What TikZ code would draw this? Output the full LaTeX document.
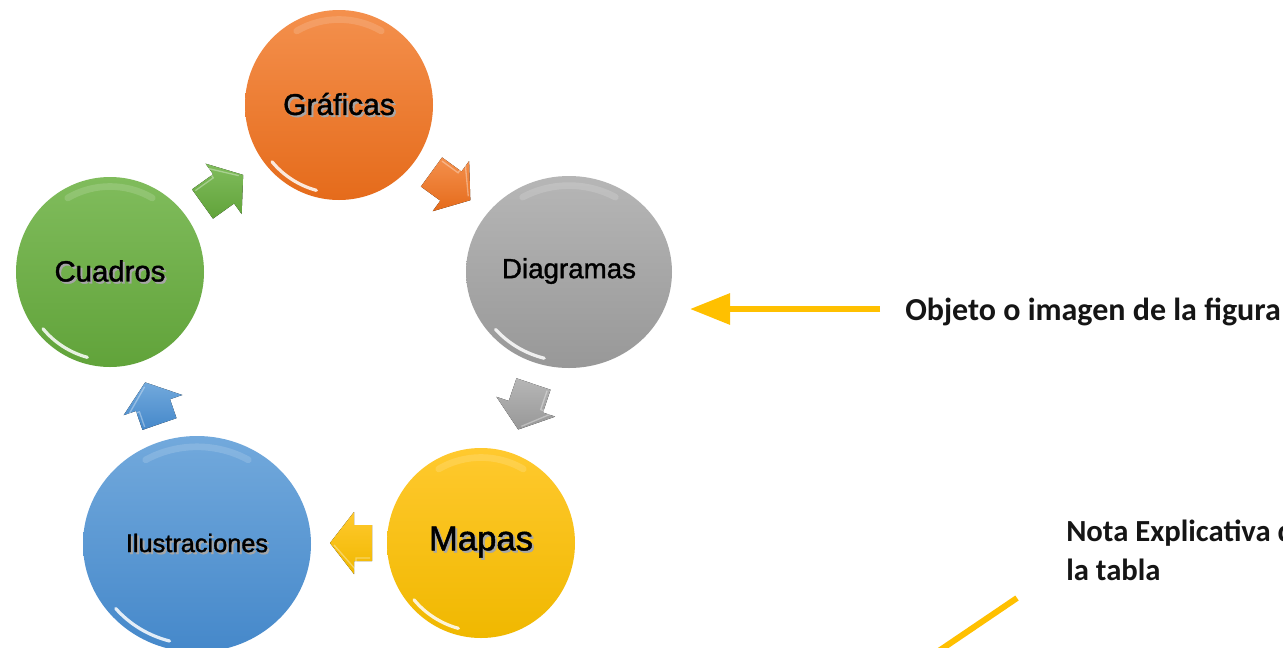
\documentclass[tikz,border=0pt]{standalone}
\usepackage{fontspec}
\setmainfont{Liberation Sans}
\newfontfamily\lblfont[FakeBold=1.3]{Liberation Sans}
\newfontfamily\calib{Carlito}
\usetikzlibrary{shapes.geometric,arrows.meta}
\definecolor{orT}{HTML}{F4904D}
\definecolor{orB}{HTML}{E56B1B}
\definecolor{grT}{HTML}{80BC5C}
\definecolor{grB}{HTML}{61A33A}
\definecolor{gyT}{HTML}{B6B6B6}
\definecolor{gyB}{HTML}{989898}
\definecolor{ylT}{HTML}{FFC92E}
\definecolor{ylB}{HTML}{F0B800}
\definecolor{blT}{HTML}{72A9DC}
\definecolor{blB}{HTML}{4588CA}
\definecolor{ylw}{HTML}{FFC000}
\definecolor{txt}{HTML}{151515}
\newcommand\shtx[1]{\makebox[0pt][l]{\hspace{1.5pt}\raisebox{-1.5pt}{\textcolor{black!35}{#1}}}#1}
\newcommand\blockarr[6]{%
  \fill[top color=#5, bottom color=#6, shift={(#1,#2)}, rotate=#3]
    (0,-18) -- ({#4-24},-18) -- ({#4-24},-31) -- (#4,0) -- ({#4-24},31) -- ({#4-24},18) -- (0,18) -- cycle;
  \draw[white, opacity=0.35, line width=1pt, shift={(#1,#2)}, rotate=#3]
    (2,-15) -- ({#4-26},-15) -- ({#4-26},-27) -- ({#4-4},-2);}
\newcommand\gloss[3]{%
  \draw[hl] ([shift={(105:{#2*0.93} and {#3*0.93})}]#1.center) arc[start angle=105, end angle=140, x radius={#2*0.93}, y radius={#3*0.93}];
  \draw[hltop] ([shift={(240:{#2*0.9} and {#3*0.9})}]#1.center) arc[start angle=240, end angle=300, x radius={#2*0.9}, y radius={#3*0.9}];}
\tikzset{
  circ/.style={ellipse, inner sep=0pt, draw=none, text=black},
  hl/.style={white, line cap=round, opacity=0.85, line width=2.4pt},
  hltop/.style={white, line cap=round, opacity=0.15, line width=5pt},
  yel/.style={draw=ylw, line width=4.5pt},
  note/.style={anchor=base west, inner sep=0pt, text=txt, font=\calib\bfseries\fontsize{24}{29}\selectfont},
  notesm/.style={note, font=\calib\bfseries\fontsize{23}{28}\selectfont}
}
\begin{document}
\begin{tikzpicture}[x=0.75pt, y=-0.75pt]
\useasboundingbox[fill=white] (0,0) rectangle (1283,647);

% circles
\node[circ, minimum width=141pt, minimum height=142.5pt, top color=orT, bottom color=orB] (graf) at (339,105) {\lblfont\fontsize{22.5}{25}\selectfont\shtx{Gráficas}};
\node[circ, minimum width=141pt, minimum height=142.5pt, top color=grT, bottom color=grB] (cuad) at (110,272) {\lblfont\fontsize{22}{25}\selectfont\shtx{Cuadros}};
\node[circ, minimum width=154.5pt, minimum height=144pt, top color=gyT, bottom color=gyB] (diag) at (569,272) {\lblfont\fontsize{20.8}{24}\selectfont\shtx{Diagramas}};
\node[circ, minimum width=141pt, minimum height=142.5pt, top color=ylT, bottom color=ylB] (mapa) at (481,543) {\lblfont\fontsize{26}{29}\selectfont\shtx{Mapas}};
\node[circ, minimum width=171pt, minimum height=162pt, top color=blT, bottom color=blB] (ilus) at (197,544) {\lblfont\fontsize{19}{22}\selectfont\shtx{Ilustraciones}};

\gloss{graf}{94}{95}
\gloss{cuad}{94}{95}
\gloss{diag}{103}{96}
\gloss{mapa}{94}{95}
\gloss{ilus}{114}{108}

% cycle arrows
\blockarr{202.5}{204}{35.6}{50}{grT}{grB}
\blockarr{431.5}{172}{-36}{48}{orT}{orB}
\blockarr{533.5}{384}{-108.6}{48}{gyT}{gyB}
\blockarr{372}{543}{180}{42}{ylT}{ylB}
\blockarr{159.5}{424}{109}{44}{blT}{blB}

% annotations
\node[note] (obj) at (905,320) {Objeto o imagen de la figura};
\coordinate (objS) at (880,309);
\coordinate (objE) at (690,309);
\draw[yel, -{Triangle[length=30pt, width=22.5pt]}] (objS) -- (objE);

\node[notesm] (nota1) at (1066,541) {Nota Explicativa de};
\node[notesm] (nota2) at (1066,580) {la tabla};
\coordinate (dg1) at (1017,598);
\coordinate (dg2) at (924,661);
\draw[yel] (dg1) -- (dg2);
\end{tikzpicture}
\end{document}
